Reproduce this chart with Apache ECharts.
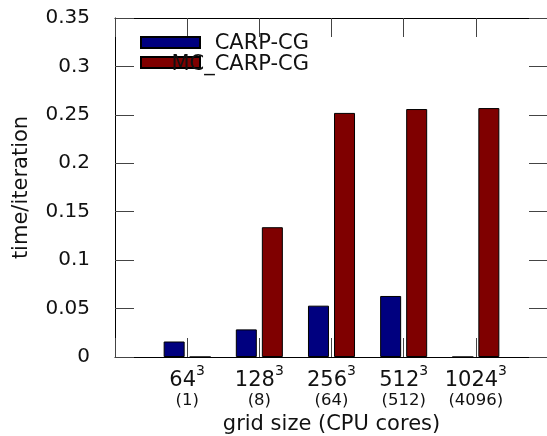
<!DOCTYPE html>
<html><head><meta charset="utf-8">
<script src="https://cdn.jsdelivr.net/npm/echarts@6/dist/echarts.min.js"></script>
<style>html,body{margin:0;padding:0;background:#fff}#c{width:547px;height:436px}</style>
</head><body><div id="c"></div>
<script>
const gridSizes = ['64', '128', '256', '512', '1024'];
const coreCounts = ['1', '8', '64', '512', '4096'];
const seriesNames = ['CARP-CG', 'MC_CARP-CG'];
const carpCG = [0.016, 0.0285, 0.053, 0.063, 0];
const mcCarpCG = [0, 0.134, 0.252, 0.256, 0.257];
const seriesColors = ['#00007f', '#7f0000'];

const FONT = 'DejaVu Sans';
const TXT = '#111';

function toPoints(vals) { return vals.map((v, i) => [i + 1, v]); }

const chart = echarts.init(document.getElementById('c'), null, {renderer: 'canvas'});
const axisLineStyle = {color: '#000', width: 1};
const tickStyle = {color: '#444', width: 1};

chart.setOption({
  animation: false,
  grid: {left: 115, top: 18, right: -1, bottom: 79, containLabel: false, outerBoundsMode: 'none'},
  legend: [
    {
      orient: 'vertical', left: 140, top: 36, padding: 0, itemGap: 7,
      itemWidth: 59, itemHeight: 11, icon: 'rect',
      formatter: () => '',
      textStyle: {fontSize: 1},
      data: seriesNames
    },
    {
      orient: 'vertical', right: 231, top: 33, padding: 0, itemGap: 0, align: 'right',
      itemWidth: 1, itemHeight: 11, icon: 'rect', itemStyle: {opacity: 0},
      textStyle: {fontFamily: FONT, fontSize: 21, color: TXT, lineHeight: 18},
      data: seriesNames
    }
  ],
  xAxis: [
    {
      type: 'value', min: 0, max: 6, interval: 1, position: 'bottom',
      axisLine: {show: true, onZero: false, lineStyle: axisLineStyle},
      axisTick: {show: true, inside: true, length: 19, lineStyle: tickStyle},
      splitLine: {show: false},
      axisLabel: {
        margin: 7,
        formatter: v => (v >= 1 && v <= 5) ? `{b|${gridSizes[v - 1]}}{s|3}\n{c|(${coreCounts[v - 1]})}` : '',
        rich: {
          b: {fontFamily: FONT, fontSize: 21, lineHeight: 27, verticalAlign: 'bottom', color: TXT},
          s: {fontFamily: FONT, fontSize: 14, lineHeight: 2, verticalAlign: 'top', color: TXT},
          c: {fontFamily: FONT, fontSize: 16.5, lineHeight: 20, color: TXT}
        }
      },
      name: 'grid size (CPU cores)', nameLocation: 'middle', nameGap: 57,
      nameTextStyle: {fontFamily: FONT, fontSize: 21, color: TXT}
    },
    {
      type: 'value', min: 0, max: 6, interval: 1, position: 'top',
      axisLine: {show: true, onZero: false, lineStyle: axisLineStyle},
      axisTick: {show: true, inside: true, length: 19, lineStyle: tickStyle},
      splitLine: {show: false}, axisLabel: {show: false}
    }
  ],
  yAxis: [
    {
      type: 'value', min: 0, max: 0.35, interval: 0.05, position: 'left',
      axisLine: {show: true, onZero: false, lineStyle: axisLineStyle},
      axisTick: {show: true, inside: true, length: 19, lineStyle: tickStyle},
      splitLine: {show: false},
      axisLabel: {margin: 25, fontFamily: FONT, fontSize: 20, color: TXT},
      name: 'time/iteration', nameLocation: 'middle', nameGap: 83, nameRotate: 90,
      nameTextStyle: {fontFamily: FONT, fontSize: 21, color: TXT}
    },
    {
      type: 'value', min: 0, max: 0.35, interval: 0.05, position: 'right',
      axisLine: {show: true, onZero: false, lineStyle: axisLineStyle},
      axisTick: {show: true, inside: true, length: 19, lineStyle: tickStyle},
      splitLine: {show: false}, axisLabel: {show: false}
    }
  ],
  series: [
    {
      name: seriesNames[0], type: 'bar', xAxisIndex: 0, yAxisIndex: 0,
      data: toPoints(carpCG), barWidth: 21, barGap: '24%',
      itemStyle: {color: seriesColors[0], borderColor: '#000', borderWidth: 1}
    },
    {
      name: seriesNames[1], type: 'bar', xAxisIndex: 0, yAxisIndex: 0,
      data: toPoints(mcCarpCG), barWidth: 21, barGap: '24%',
      itemStyle: {color: seriesColors[1], borderColor: '#000', borderWidth: 1}
    }
  ]
});
</script></body></html>
